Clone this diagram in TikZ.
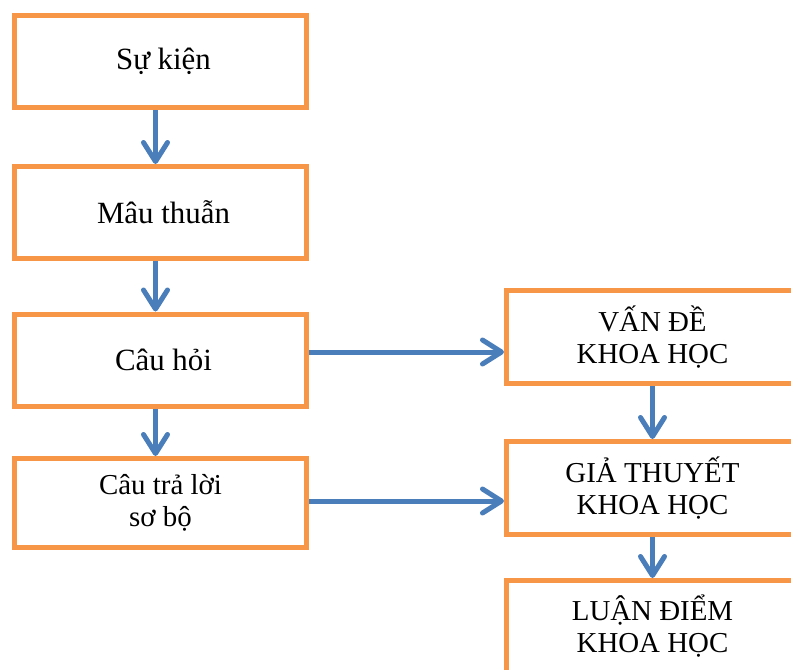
\documentclass[tikz,border=0pt]{standalone}
\usepackage{fontspec}
\setmainfont{Liberation Serif}
\usetikzlibrary{arrows.meta}
\definecolor{boxorange}{HTML}{F79646}
\definecolor{flowblue}{HTML}{4A7EBB}
\begin{document}
\begin{tikzpicture}[x=1bp,y=-1bp,
	box/.style={draw=boxorange,line width=5bp,minimum width=292bp,minimum height=92bp,
		inner sep=0pt,align=center,font=\fontsize{31}{34}\selectfont},
	twoline/.style={font=\fontsize{29}{32}\selectfont},
	flow/.style={draw=flowblue,line width=5bp,-{Straight Barb[length=19bp,width=24bp,round]}}]
	\useasboundingbox (0,0) rectangle (791,670);
	\clip (0,0) rectangle (791,670);
	% left column
	\node[box] (b1) at (160.5,61.5) {\hspace{6bp}Sự kiện};
	\node[box] (b2) at (160.5,212.5) {\hspace{6bp}Mâu thuẫn};
	\node[box] (b3) at (160.5,360) {\hspace{6bp}Câu hỏi};
	\node[box,twoline,minimum height=89bp] (b4) at (160.5,503) {Câu trả lời\\sơ bộ};
	% right column
	\node[box,twoline,minimum height=93bp] (r1) at (652.5,337) {VẤN ĐỀ\\KHOA HỌC};
	\node[box,twoline,minimum height=93bp] (r2) at (652.5,488) {GIẢ THUYẾT\\KHOA HỌC};
	\node[box,twoline] (r3) at (652.5,626.5) {LUẬN ĐIỂM\\KHOA HỌC};
	% arrows
	\draw[flow] ([xshift=-5bp]b1.south) -- ([xshift=-5bp]b2.north);
	\draw[flow] ([xshift=-5bp]b2.south) -- ([xshift=-5bp]b3.north);
	\draw[flow] ([xshift=-5bp]b3.south) -- ([xshift=-5bp]b4.north);
	\coordinate (h1) at ([yshift=8bp]b3.east);
	\coordinate (h2) at ([yshift=2bp]b4.east);
	\draw[flow] (h1) -- (h1 -| r1.west);
	\draw[flow] (h2) -- (h2 -| r2.west);
	\draw[flow] (r1.south) -- (r2.north);
	\draw[flow] (r2.south) -- (r3.north);
\end{tikzpicture}
\end{document}
